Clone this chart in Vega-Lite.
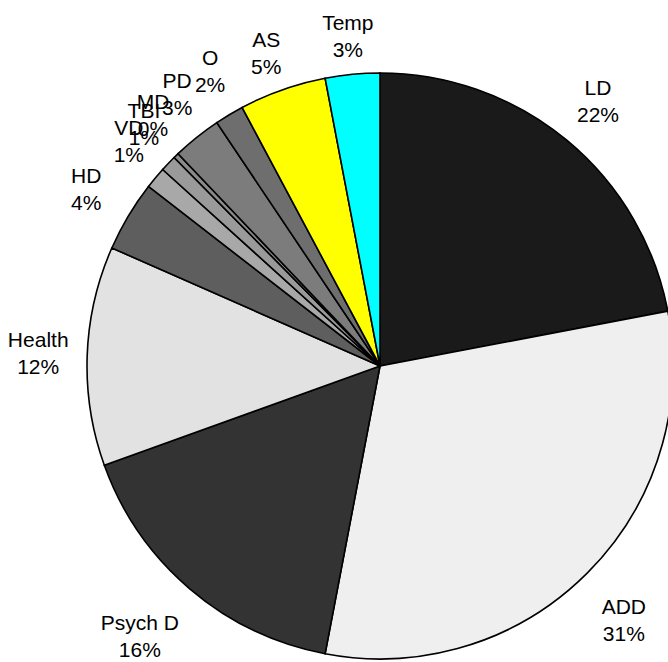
{
  "$schema": "https://vega.github.io/schema/vega-lite/v6.json",
  "width": 760,
  "height": 732,
  "autosize": {"type": "none"},
  "padding": 0,
  "background": "white",
  "config": {"view": {"stroke": null}},
  "data": {
    "values": [
      {"idx": 1, "cat": "LD", "value": 22.0, "pct": "22%"},
      {"idx": 2, "cat": "ADD", "value": 31.0, "pct": "31%"},
      {"idx": 3, "cat": "Psych D", "value": 16.5, "pct": "16%"},
      {"idx": 4, "cat": "Health", "value": 12.1, "pct": "12%"},
      {"idx": 5, "cat": "HD", "value": 3.9, "pct": "4%"},
      {"idx": 6, "cat": "VD", "value": 1.2, "pct": "1%"},
      {"idx": 7, "cat": "TBI", "value": 0.9, "pct": "1%"},
      {"idx": 8, "cat": "MD", "value": 0.3, "pct": "0%"},
      {"idx": 9, "cat": "PD", "value": 2.7, "pct": "3%"},
      {"idx": 10, "cat": "O", "value": 1.6, "pct": "2%"},
      {"idx": 11, "cat": "AS", "value": 4.8, "pct": "5%"},
      {"idx": 12, "cat": "Temp", "value": 3.0, "pct": "3%"}
    ]
  },
  "transform": [
    {"stack": "value", "groupby": [], "sort": [{"field": "idx", "order": "ascending"}], "as": ["v0", "v1"]},
    {"calculate": "(datum.v0 + datum.v1) / 2", "as": "mid"},
    {"calculate": "datum.cat + '\\n' + datum.pct", "as": "label"}
  ],
  "layer": [
    {
      "mark": {"type": "arc", "outerRadius": 293, "stroke": "black", "strokeWidth": 1.6},
      "encoding": {
        "theta": {"field": "v0", "type": "quantitative", "scale": {"domain": [0, 100]}},
        "theta2": {"field": "v1"},
        "color": {
          "field": "cat",
          "type": "nominal",
          "legend": null,
          "scale": {
            "domain": ["LD", "ADD", "Psych D", "Health", "HD", "VD", "TBI", "MD", "PD", "O", "AS", "Temp"],
            "range": ["#1a1a1a", "#efefef", "#333333", "#e2e2e2", "#5e5e5e", "#a8a8a8", "#9a9a9a", "#8a8a8a", "#7c7c7c", "#6e6e6e", "#ffff00", "#00ffff"]
          }
        }
      }
    },
    {
      "transform": [{"filter": {"field": "cat", "oneOf": ["LD", "Health", "HD"]}}],
      "mark": {"type": "text", "radius": 342, "dy": -13.5, "fontSize": 21, "font": "Liberation Sans", "lineBreak": "\n", "lineHeight": 27, "align": "center", "baseline": "middle", "color": "black"},
      "encoding": {
        "theta": {"field": "mid", "type": "quantitative", "scale": {"domain": [0, 100]}},
        "text": {"field": "label", "type": "nominal"}
      }
    },
    {
      "transform": [{"filter": {"field": "cat", "oneOf": ["O"]}}],
      "mark": {"type": "text", "radius": 342, "dx": 6, "dy": -13.5, "fontSize": 21, "font": "Liberation Sans", "lineBreak": "\n", "lineHeight": 27, "align": "center", "baseline": "middle", "color": "black"},
      "encoding": {
        "theta": {"field": "mid", "type": "quantitative", "scale": {"domain": [0, 100]}},
        "text": {"field": "label", "type": "nominal"}
      }
    },
    {
      "transform": [{"filter": {"field": "cat", "oneOf": ["VD", "TBI", "MD", "PD"]}}],
      "mark": {"type": "text", "radius": 342, "dx": 11, "dy": -17.5, "fontSize": 21, "font": "Liberation Sans", "lineBreak": "\n", "lineHeight": 27, "align": "center", "baseline": "middle", "color": "black"},
      "encoding": {
        "theta": {"field": "mid", "type": "quantitative", "scale": {"domain": [0, 100]}},
        "text": {"field": "label", "type": "nominal"}
      }
    },
    {
      "transform": [{"filter": {"field": "cat", "oneOf": ["AS", "Temp"]}}],
      "mark": {"type": "text", "radius": 342, "dy": -2, "fontSize": 21, "font": "Liberation Sans", "lineBreak": "\n", "lineHeight": 27, "align": "center", "baseline": "middle", "color": "black"},
      "encoding": {
        "theta": {"field": "mid", "type": "quantitative", "scale": {"domain": [0, 100]}},
        "text": {"field": "label", "type": "nominal"}
      }
    },
    {
      "transform": [{"filter": {"field": "cat", "oneOf": ["ADD"]}}],
      "mark": {"type": "text", "radius": 342, "dx": 2, "dy": 0, "fontSize": 21, "font": "Liberation Sans", "lineBreak": "\n", "lineHeight": 27, "align": "center", "baseline": "middle", "color": "black"},
      "encoding": {
        "theta": {"field": "mid", "type": "quantitative", "scale": {"domain": [0, 100]}},
        "text": {"field": "label", "type": "nominal"}
      }
    },
    {
      "transform": [{"filter": {"field": "cat", "oneOf": ["Psych D"]}}],
      "mark": {"type": "text", "radius": 342, "dx": -18, "dy": -2, "fontSize": 21, "font": "Liberation Sans", "lineBreak": "\n", "lineHeight": 27, "align": "center", "baseline": "middle", "color": "black"},
      "encoding": {
        "theta": {"field": "mid", "type": "quantitative", "scale": {"domain": [0, 100]}},
        "text": {"field": "label", "type": "nominal"}
      }
    }
  ]
}
